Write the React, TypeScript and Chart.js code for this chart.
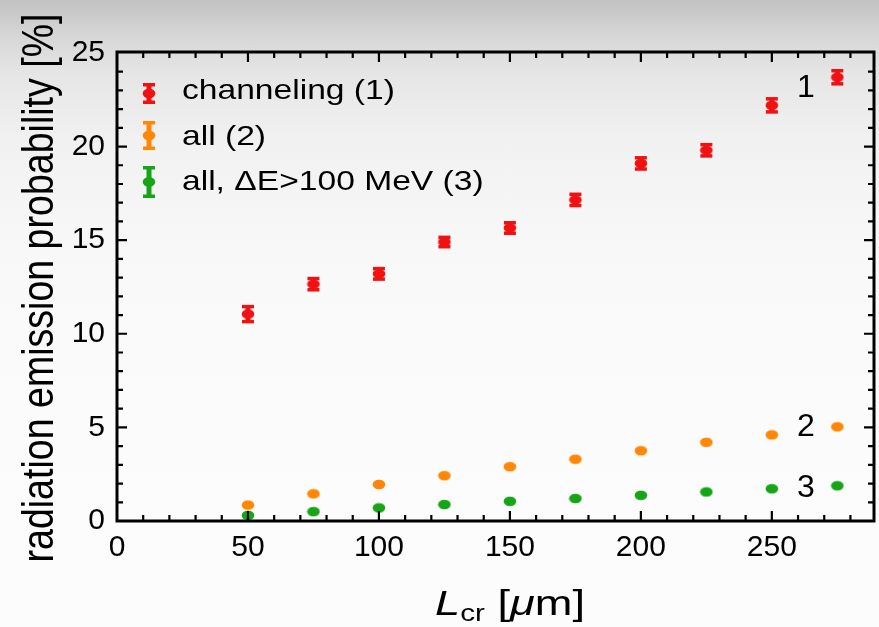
import React, { useEffect, useRef } from "react";
import { Chart, registerables } from "chart.js";

Chart.register(...registerables);

const X_VALUES = [50, 75, 100, 125, 150, 175, 200, 225, 250, 275];
const CHANNELING = [11.05, 12.65, 13.2, 14.9, 15.65, 17.15, 19.1, 19.8, 22.2, 23.7];
const CHANNELING_ERR = [0.4, 0.3, 0.28, 0.25, 0.28, 0.3, 0.3, 0.3, 0.35, 0.35];
const ALL = [0.85, 1.45, 1.95, 2.42, 2.9, 3.3, 3.75, 4.2, 4.6, 5.03];
const ALL_HIGH = [0.3, 0.5, 0.7, 0.88, 1.05, 1.2, 1.37, 1.55, 1.72, 1.88];

const SERIES_LABELS = ["channeling (1)", "all (2)", "all, \u0394E>100 MeV (3)"];
const CURVE_TAGS = ["1", "2", "3"];
const TAG_POS = [
  [263, 23.14],
  [263, 5.03],
  [263, 1.75],
];
const COLORS = ["rgb(240,18,18)", "rgb(255,135,5)", "rgb(22,165,22)"];

const X_MIN = 0;
const X_MAX = 289;
const Y_MIN = 0;
const Y_MAX = 25.05;

const FONT = "'Liberation Sans', Arial, Helvetica, sans-serif";
const SX = 1.2;

function ellipseCanvas(color: string) {
  const c = document.createElement("canvas");
  c.width = 14;
  c.height = 11;
  const g = c.getContext("2d")!;
  g.fillStyle = color;
  g.beginPath();
  g.ellipse(7, 5.5, 6.3, 4.8, 0, 0, Math.PI * 2);
  g.fill();
  return c;
}

const customPlugin = {
  id: "customDecor",
  beforeDatasetsDraw(chart: any) {
    const ctx = chart.ctx;
    const xs = chart.scales.x;
    const ys = chart.scales.y;
    ctx.save();
    ctx.fillStyle = COLORS[0];
    for (let i = 0; i < X_VALUES.length; i++) {
      const px = xs.getPixelForValue(X_VALUES[i]);
      const top = ys.getPixelForValue(CHANNELING[i] + CHANNELING_ERR[i]);
      const bot = ys.getPixelForValue(CHANNELING[i] - CHANNELING_ERR[i]);
      ctx.fillRect(px - 2.5, top, 5, bot - top);
      ctx.fillRect(px - 6, top - 1.75, 12, 3.5);
      ctx.fillRect(px - 6, bot - 1.75, 12, 3.5);
    }
    ctx.restore();
  },
  afterDraw(chart: any) {
    const ctx = chart.ctx;
    const xs = chart.scales.x;
    const ys = chart.scales.y;
    const { left, right, top, bottom } = chart.chartArea;
    ctx.save();
    // ticks
    ctx.strokeStyle = "#000";
    ctx.lineWidth = 2.2;
    ctx.beginPath();
    for (let v = 10; v < X_MAX; v += 10) {
      const px = xs.getPixelForValue(v);
      const len = v % 50 === 0 ? 10 : 6;
      ctx.moveTo(px, bottom);
      ctx.lineTo(px, bottom - len);
      ctx.moveTo(px, top);
      ctx.lineTo(px, top + len);
    }
    for (let v = 1; v < 25; v += 1) {
      const py = ys.getPixelForValue(v);
      const len = v % 5 === 0 ? 10 : 6;
      ctx.moveTo(left, py);
      ctx.lineTo(left + len, py);
      ctx.moveTo(right, py);
      ctx.lineTo(right - len, py);
    }
    ctx.stroke();
    // frame
    ctx.lineWidth = 3;
    ctx.strokeRect(left, top, right - left, bottom - top);

    // legend
    const rows = [
      { base: 99, icTop: 83, icBot: 104 },
      { base: 145, icTop: 121, icBot: 150 },
      { base: 190, icTop: 166, icBot: 198 },
    ];
    ctx.font = `28px ${FONT}`;
    ctx.textAlign = "left";
    ctx.textBaseline = "alphabetic";
    rows.forEach((r, i) => {
      const cx = 149;
      ctx.fillStyle = COLORS[i];
      ctx.fillRect(cx - 2.5, r.icTop, 5, r.icBot - r.icTop);
      ctx.fillRect(cx - 6, r.icTop, 12, 3.5);
      ctx.fillRect(cx - 6, r.icBot - 3.5, 12, 3.5);
      ctx.beginPath();
      ctx.ellipse(cx, (r.icTop + r.icBot) / 2, 6.3, 4.8, 0, 0, Math.PI * 2);
      ctx.fill();
      ctx.fillStyle = "#000";
      ctx.save();
      ctx.translate(182, r.base);
      ctx.scale(SX, 1);
      ctx.fillText(SERIES_LABELS[i], 0, 0);
      ctx.restore();
    });

    // curve tags
    ctx.font = `32px ${FONT}`;
    ctx.textAlign = "center";
    ctx.textBaseline = "middle";
    ctx.fillStyle = "#000";
    CURVE_TAGS.forEach((t, i) => {
      ctx.fillText(t, xs.getPixelForValue(TAG_POS[i][0]), ys.getPixelForValue(TAG_POS[i][1]));
    });

    // x title: L_cr [μm]
    const parts = [
      { t: "L", f: `italic 35px ${FONT}`, dy: 0 },
      { t: "cr", f: `23px ${FONT}`, dy: 6 },
      { t: " [", f: `35px ${FONT}`, dy: 0 },
      { t: "\u03bc", f: `italic 35px ${FONT}`, dy: 0 },
      { t: "m]", f: `35px ${FONT}`, dy: 0 },
    ];
    let total = 0;
    const widths = parts.map((p) => {
      ctx.font = p.f;
      const w = ctx.measureText(p.t).width;
      total += w;
      return w;
    });
    const xsx = 150 / total;
    ctx.save();
    ctx.translate(510 - (total * xsx) / 2, 615);
    ctx.scale(xsx, 1);
    ctx.textAlign = "left";
    ctx.textBaseline = "alphabetic";
    let x = 0;
    parts.forEach((p, i) => {
      ctx.font = p.f;
      ctx.fillText(p.t, x, p.dy);
      x += widths[i];
    });
    ctx.restore();

    // y title
    ctx.save();
    ctx.font = `36px ${FONT}`;
    const yt = "radiation emission probability [%]";
    const w = ctx.measureText(yt).width;
    const sAlong = 549 / w;
    ctx.translate(41, 288);
    ctx.rotate(-Math.PI / 2);
    ctx.scale(sAlong, 1.25);
    ctx.textAlign = "center";
    ctx.textBaseline = "middle";
    ctx.fillText(yt, 0, 0);
    ctx.restore();

    ctx.restore();
  },
};

export default function App() {
  const ref = useRef<HTMLCanvasElement | null>(null);
  useEffect(() => {
    if (!ref.current) return;
    const mk = (arr: number[]) => X_VALUES.map((x, i) => ({ x, y: arr[i] }));
    const chart = new Chart(ref.current, {
      type: "scatter",
      data: {
        datasets: [
          { label: SERIES_LABELS[0], data: mk(CHANNELING), pointStyle: ellipseCanvas(COLORS[0]) as any, backgroundColor: COLORS[0], borderColor: COLORS[0] },
          { label: SERIES_LABELS[1], data: mk(ALL), pointStyle: ellipseCanvas(COLORS[1]) as any, backgroundColor: COLORS[1], borderColor: COLORS[1] },
          { label: SERIES_LABELS[2], data: mk(ALL_HIGH), pointStyle: ellipseCanvas(COLORS[2]) as any, backgroundColor: COLORS[2], borderColor: COLORS[2] },
        ],
      },
      options: {
        responsive: false,
        devicePixelRatio: 1,
        animation: false,
        layout: { padding: { left: 0, right: 4, top: 52, bottom: 0 } },
        plugins: { legend: { display: false }, tooltip: { enabled: false } },
        scales: {
          x: {
            type: "linear",
            min: X_MIN,
            max: X_MAX,
            grid: { display: false, drawTicks: false },
            border: { display: false },
            ticks: { stepSize: 50, includeBounds: false, color: "#000", font: { size: 30, family: FONT }, padding: 9, maxRotation: 0 },
            afterFit: (s: any) => {
              s.height = 106;
            },
          },
          y: {
            type: "linear",
            min: Y_MIN,
            max: Y_MAX,
            grid: { display: false, drawTicks: false },
            border: { display: false },
            ticks: { stepSize: 5, includeBounds: false, color: "#000", font: { size: 30, family: FONT }, padding: 12 },
            afterFit: (s: any) => {
              s.width = 117;
            },
          },
        },
      },
      plugins: [customPlugin],
    });
    return () => chart.destroy();
  }, []);
  return (
    <div
      style={{
        position: "fixed",
        left: 0,
        top: 0,
        width: 879,
        height: 627,
        background:
          "linear-gradient(to bottom, #c2c2c2 0px, #d6d6d6 35px, #e6e6e6 75px, #f1f1f1 140px, #f8f8f8 250px, #fbfbfb 400px, #fcfcfc 627px)",
      }}
    >
      <canvas ref={ref} width={879} height={627} style={{ display: "block" }} />
    </div>
  );
}
